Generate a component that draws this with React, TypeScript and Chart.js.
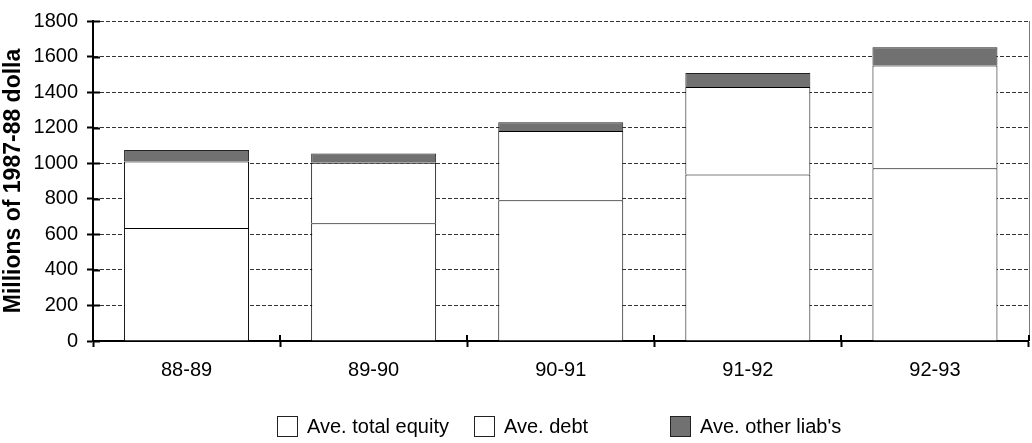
import { useEffect, useRef } from "react";
import { Chart, registerables } from "chart.js";

Chart.register(...registerables);

// ---- data ----
const categories = ["88-89", "89-90", "90-91", "91-92", "92-93"];
const seriesLabels = ["Ave. total equity", "Ave. debt", "Ave. other liab's"];
const equity = [635, 662, 792, 937, 972];
const debt = [375, 341, 389, 492, 578];
const otherLiabs = [65, 52, 49, 79, 103];
const yMin = 0;
const yMax = 1800;
const yStep = 200;
const yTitle = "Millions of 1987-88 dolla";

// ---- style ----
const FONT = "'Liberation Sans', Arial, Helvetica, sans-serif";
const W = 1032;
const H = 443;
const legendBoxX = [277, 474, 670];
const legendBoxY = 416;
const legendBox = 21;

const crossTicks = {
  id: "crossTicks",
  afterDraw(chart: any) {
    const ctx = chart.ctx;
    const { left, right, top, bottom } = chart.chartArea;
    const ys = chart.scales.y;
    const xs = chart.scales.x;
    ctx.save();
    // right border of plot area
    ctx.strokeStyle = "#7a7a7a";
    ctx.lineWidth = 1;
    ctx.beginPath();
    const rx = Math.round(right) + 0.5;
    ctx.moveTo(rx, top);
    ctx.lineTo(rx, bottom);
    ctx.stroke();
    // inner parts of tick marks
    ctx.strokeStyle = "#000";
    ctx.lineWidth = 2;
    ctx.beginPath();
    ys.ticks.forEach((_t: any, i: number) => {
      const y = Math.round(ys.getPixelForTick(i)) + 0.5;
      ctx.moveTo(left, y);
      ctx.lineTo(left + 7, y);
    });
    for (let i = 0; i <= categories.length; i++) {
      const x = Math.round(xs.getPixelForValue(i - 0.5));
      ctx.moveTo(x, bottom);
      ctx.lineTo(x, bottom - 6);
    }
    ctx.stroke();
    ctx.restore();
  },
};

const customLegend = {
  id: "customLegend",
  afterDraw(chart: any) {
    const ctx = chart.ctx;
    ctx.save();
    ctx.font = `20px ${FONT}`;
    ctx.textBaseline = "middle";
    ctx.textAlign = "left";
    chart.data.datasets.forEach((ds: any, i: number) => {
      const bx = legendBoxX[i];
      ctx.fillStyle = ds.backgroundColor;
      ctx.fillRect(bx, legendBoxY, legendBox, legendBox);
      ctx.strokeStyle = "#222";
      ctx.lineWidth = 1;
      ctx.strokeRect(bx + 0.5, legendBoxY + 0.5, legendBox - 1, legendBox - 1);
      ctx.fillStyle = "#000";
      ctx.fillText(ds.label, bx + legendBox + 9, legendBoxY + legendBox / 2 + 1);
    });
    ctx.restore();
  },
};

export default function App() {
  const ref = useRef<HTMLCanvasElement | null>(null);

  useEffect(() => {
    if (!ref.current) return;
    const chart = new Chart(ref.current, {
      type: "bar",
      data: {
        labels: categories,
        datasets: [
          {
            label: seriesLabels[0],
            data: equity,
            backgroundColor: "#ffffff",
            borderColor: "#000",
            borderWidth: 1,
          },
          {
            label: seriesLabels[1],
            data: debt,
            backgroundColor: "#ffffff",
            borderColor: "#000",
            borderWidth: 1,
          },
          {
            label: seriesLabels[2],
            data: otherLiabs,
            backgroundColor: "#717171",
            borderColor: "#222",
            borderWidth: 1,
          },
        ],
      },
      options: {
        responsive: false,
        animation: false,
        devicePixelRatio: 1,
        layout: { padding: { left: 0, right: 3.5, top: 15, bottom: 0 } },
        datasets: {
          bar: { categoryPercentage: 1, barPercentage: 0.668 },
        },
        plugins: {
          legend: { display: false },
          tooltip: { enabled: false },
        },
        scales: {
          x: {
            stacked: true,
            offset: true,
            grid: {
              offset: true,
              drawOnChartArea: false,
              drawTicks: true,
              tickLength: 6,
              tickColor: "#000",
              tickWidth: 2,
            },
            border: { display: true, color: "#000", width: 2 },
            ticks: {
              color: "#000",
              font: { family: FONT, size: 20 },
              padding: 11,
              maxRotation: 0,
            },
            afterFit: (s: any) => {
              s.height = H - 341;
            },
          },
          y: {
            stacked: true,
            min: yMin,
            max: yMax,
            ticks: {
              stepSize: yStep,
              color: "#000",
              font: { family: FONT, size: 20 },
              padding: 9,
              callback: (v: any) => String(v),
            },
            grid: {
              color: "#333",
              lineWidth: 1,
              drawTicks: true,
              tickLength: 6,
              tickColor: "#000",
              tickWidth: 2,
              tickBorderDash: [],
            },
            border: { display: true, color: "#000", width: 2, dash: [4, 2] },
            title: {
              display: true,
              text: yTitle,
              color: "#000",
              font: { family: FONT, size: 23, weight: "bold" },
              padding: { top: 0, bottom: 0 },
            },
            afterFit: (s: any) => {
              s.width = 93;
            },
          },
        },
      },
      plugins: [crossTicks, customLegend],
    });
    return () => chart.destroy();
  }, []);

  return (
    <div style={{ position: "fixed", left: 0, top: 0, width: W, height: H, background: "#fff" }}>
      <canvas ref={ref} width={W} height={H} style={{ display: "block" }} />
    </div>
  );
}
